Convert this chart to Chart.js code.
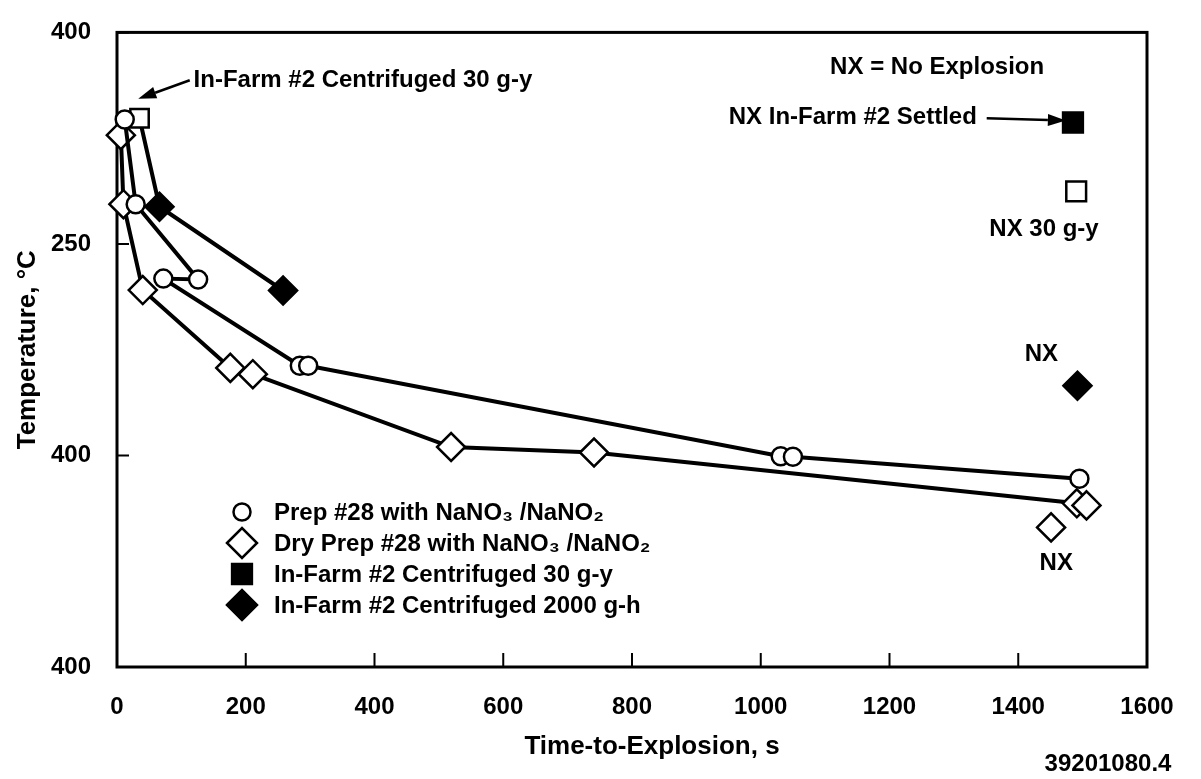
<!DOCTYPE html>
<html>
<head>
<meta charset="utf-8">
<title>Temperature vs Time-to-Explosion</title>
<script src="https://cdn.jsdelivr.net/npm/chart.js@4.4.1/dist/chart.umd.min.js"></script>
<style>
  html, body { margin: 0; padding: 0; background: #fff; }
  #wrap { width: 1201px; height: 779px; position: relative; }
</style>
</head>
<body>
<div id="wrap"><canvas id="chart"></canvas></div>
<script>
/* global Chart */

// values (time in s, temperature in axis units)
var prepTime = [12, 29, 126, 72, 284, 297, 1031, 1050, 1495];
var prepTemp = [379.4, 359.4, 341.6, 341.8, 321.2, 321.2, 299.8, 299.7, 294.5];

var dryTime = [6, 10, 40, 176, 211, 519, 741, 1491, 1506];
var dryTemp = [375.7, 359.4, 339.1, 320.7, 319.2, 302, 300.7, 288.7, 288.2];

var farm30Time = [35];
var farm30Temp = [379.7];

var farm2000Time = [35, 66, 258];
var farm2000Temp = [379.7, 358.8, 339];

// NX = no explosion
var nxDryTime = [1451];
var nxDryTemp = [283];
var nxSettledTime = [1485];
var nxSettledTemp = [378.7];
var nx30Time = [1490];
var nx30Temp = [362.4];
var nx2000Time = [1492];
var nx2000Temp = [316.5];

var yTickValues = [250, 300, 350, 400];
var yTickLabels = ['400', '400', '250', '400'];

var seriesLabels = [
  'Prep #28 with NaNO\u2083 /NaNO\u2082',
  'Dry Prep #28 with NaNO\u2083 /NaNO\u2082',
  'In-Farm #2 Centrifuged 30 g-y',
  'In-Farm #2 Centrifuged 2000 g-h'
];

// text notes, placed in data units
var notes = [
  { text: 'In-Farm #2 Centrifuged 30 g-y', x: 119, y: 388.7, align: 'left' },
  { text: 'NX = No Explosion', x: 1274, y: 391.8, align: 'center' },
  { text: 'NX In-Farm #2 Settled', x: 1143, y: 380, align: 'center' },
  { text: 'NX 30 g-y', x: 1440, y: 353.4, align: 'center' },
  { text: 'NX', x: 1436, y: 323.9, align: 'center' },
  { text: 'NX', x: 1459, y: 274.5, align: 'center' }
];
var arrows = [
  { from: [113, 388.7], to: [33, 384.3] },
  { from: [1351, 379.7], to: [1474, 379.2] }
];

function pts(xs, ys) {
  return xs.map(function(x, i) { return { x: x, y: ys[i] }; });
}

var FONT = "'Liberation Sans', Arial, Helvetica, sans-serif";
Chart.defaults.font.family = FONT;
Chart.defaults.font.weight = 'bold';
Chart.defaults.color = '#000';

function marker(shape, r, fill) {
  return {
    pointStyle: shape,
    pointRadius: r,
    pointHoverRadius: r,
    pointBorderWidth: 2.5,
    pointBorderColor: '#000',
    pointBackgroundColor: fill,
    borderColor: '#000',
    borderWidth: 4,
    clip: false
  };
}

function ds(label, data, style, line) {
  var d = Object.assign({ label: label, data: data, showLine: line }, style);
  return d;
}

var legendStyles = [
  { pointStyle: 'circle', radius: 8.5, fill: '#fff' },
  { pointStyle: 'rectRot', radius: 15, fill: '#fff' },
  { pointStyle: 'rect', radius: 14, fill: '#000' },
  { pointStyle: 'rectRot', radius: 15, fill: '#000' }
];

function symbol(ctx, style, x, y) {
  ctx.save();
  ctx.fillStyle = style.fill;
  ctx.strokeStyle = '#000';
  ctx.lineWidth = 2.5;
  if (Chart.helpers && Chart.helpers.drawPoint) {
    Chart.helpers.drawPoint(ctx, { pointStyle: style.pointStyle, radius: style.radius, rotation: 0, borderWidth: 2.5 }, x, y);
  } else {
    var r = style.radius;
    ctx.beginPath();
    if (style.pointStyle === 'circle') {
      ctx.arc(x, y, r, 0, Math.PI * 2);
    } else if (style.pointStyle === 'rectRot') {
      ctx.moveTo(x, y - r); ctx.lineTo(x + r, y); ctx.lineTo(x, y + r); ctx.lineTo(x - r, y);
      ctx.closePath();
    } else {
      var s = r * Math.SQRT1_2;
      ctx.rect(x - s, y - s, 2 * s, 2 * s);
    }
    ctx.fill();
    ctx.stroke();
  }
  ctx.restore();
}

function arrow(ctx, x1, y1, x2, y2) {
  var a = Math.atan2(y2 - y1, x2 - x1);
  var len = 18, half = 6;
  ctx.save();
  ctx.strokeStyle = '#000';
  ctx.fillStyle = '#000';
  ctx.lineWidth = 2.5;
  ctx.beginPath();
  ctx.moveTo(x1, y1);
  ctx.lineTo(x2 - Math.cos(a) * len, y2 - Math.sin(a) * len);
  ctx.stroke();
  ctx.beginPath();
  ctx.moveTo(x2, y2);
  ctx.lineTo(x2 - Math.cos(a) * len - Math.sin(a) * half, y2 - Math.sin(a) * len + Math.cos(a) * half);
  ctx.lineTo(x2 - Math.cos(a) * len + Math.sin(a) * half, y2 - Math.sin(a) * len - Math.cos(a) * half);
  ctx.closePath();
  ctx.fill();
  ctx.restore();
}

var decor = {
  id: 'decor',
  beforeDatasetsDraw: function(chart) {
    var ctx = chart.ctx, a = chart.chartArea;
    var xs = chart.scales.x, ys = chart.scales.y;
    ctx.save();
    ctx.strokeStyle = '#000';
    ctx.lineWidth = 3;
    ctx.strokeRect(a.left, a.top, a.right - a.left, a.bottom - a.top);
    ctx.lineWidth = 2;
    ctx.beginPath();
    xs.ticks.forEach(function(t) {
      var px = xs.getPixelForValue(t.value);
      ctx.moveTo(px, a.bottom);
      ctx.lineTo(px, a.bottom - 14);
    });
    ys.ticks.forEach(function(t) {
      var py = ys.getPixelForValue(t.value);
      ctx.moveTo(a.left, py);
      ctx.lineTo(a.left + 12, py);
    });
    ctx.stroke();
    ctx.restore();
  },
  afterDatasetsDraw: function(chart) {
    var ctx = chart.ctx, a = chart.chartArea;
    var xs = chart.scales.x, ys = chart.scales.y;
    ctx.save();
    ctx.fillStyle = '#000';
    ctx.textBaseline = 'middle';
    ctx.font = 'bold 24px ' + FONT;
    notes.forEach(function(n) {
      ctx.textAlign = n.align;
      ctx.fillText(n.text, xs.getPixelForValue(n.x), ys.getPixelForValue(n.y));
    });
    arrows.forEach(function(r) {
      arrow(ctx, xs.getPixelForValue(r.from[0]), ys.getPixelForValue(r.from[1]),
        xs.getPixelForValue(r.to[0]), ys.getPixelForValue(r.to[1]));
    });

    // legend, lower left inside the plot
    ctx.font = 'bold 24px ' + FONT;
    ctx.textAlign = 'left';
    var lx = a.left + 125, ly = a.bottom - 155;
    chart.data.datasets.slice(0, 4).forEach(function(d, i) {
      symbol(ctx, legendStyles[i], lx, ly + i * 31);
      ctx.fillStyle = '#000';
      ctx.fillText(d.label, lx + 32, ly + i * 31 + 1);
    });

    // x axis title and figure number
    ctx.font = 'bold 26px ' + FONT;
    ctx.textAlign = 'center';
    ctx.fillText('Time-to-Explosion, s', 652, 747);
    ctx.font = 'bold 24px ' + FONT;
    ctx.fillText('39201080.4', 1108, 764);
    ctx.restore();
  }
};

var chart = new Chart(document.getElementById('chart').getContext('2d'), {
  type: 'scatter',
  data: {
    datasets: [
      ds(seriesLabels[0], pts(prepTime, prepTemp), marker('circle', 9, '#fff'), true),
      ds(seriesLabels[1], pts(dryTime, dryTemp), marker('rectRot', 14, '#fff'), true),
      ds(seriesLabels[2], pts(farm30Time, farm30Temp), marker('rect', 13, '#fff'), false),
      ds(seriesLabels[3], pts(farm2000Time, farm2000Temp),
        Object.assign(marker('rectRot', 14, '#000'), { pointRadius: [0, 14, 14] }), true),
      ds('NX Dry Prep #28', pts(nxDryTime, nxDryTemp), marker('rectRot', 14, '#fff'), false),
      ds('NX In-Farm #2 Settled', pts(nxSettledTime, nxSettledTemp), marker('rect', 14, '#000'), false),
      ds('NX 30 g-y', pts(nx30Time, nx30Temp), marker('rect', 14, '#fff'), false),
      ds('NX 2000 g-h', pts(nx2000Time, nx2000Temp), marker('rectRot', 14, '#000'), false)
    ]
  },
  options: {
    responsive: true,
    maintainAspectRatio: false,
    animation: false,
    layout: { padding: { top: 20, right: 54, bottom: 0, left: 0 } },
    plugins: {
      legend: { display: false },
      tooltip: { enabled: false }
    },
    scales: {
      x: {
        type: 'linear',
        min: 0,
        max: 1600,
        ticks: {
          stepSize: 200,
          padding: 18,
          font: { size: 24, weight: 'bold' },
          color: '#000',
          callback: function(v) { return String(v); }
        },
        grid: { display: false },
        border: { display: false },
        afterFit: function(scale) { scale.height = 112; }
      },
      y: {
        type: 'linear',
        min: 250,
        max: 400,
        ticks: {
          stepSize: 50,
          padding: 18,
          font: { size: 24, weight: 'bold' },
          color: '#000',
          callback: function(v) {
            var i = yTickValues.indexOf(v);
            return i < 0 ? '' : yTickLabels[i];
          }
        },
        grid: { display: false },
        border: { display: false },
        title: {
          display: true,
          text: 'Temperature, \u00b0C',
          color: '#000',
          font: { size: 26, weight: 'bold' },
          padding: { top: 12, bottom: 0 }
        },
        afterFit: function(scale) { scale.width = 117; }
      }
    }
  },
  plugins: [decor]
});
</script>
</body>
</html>
